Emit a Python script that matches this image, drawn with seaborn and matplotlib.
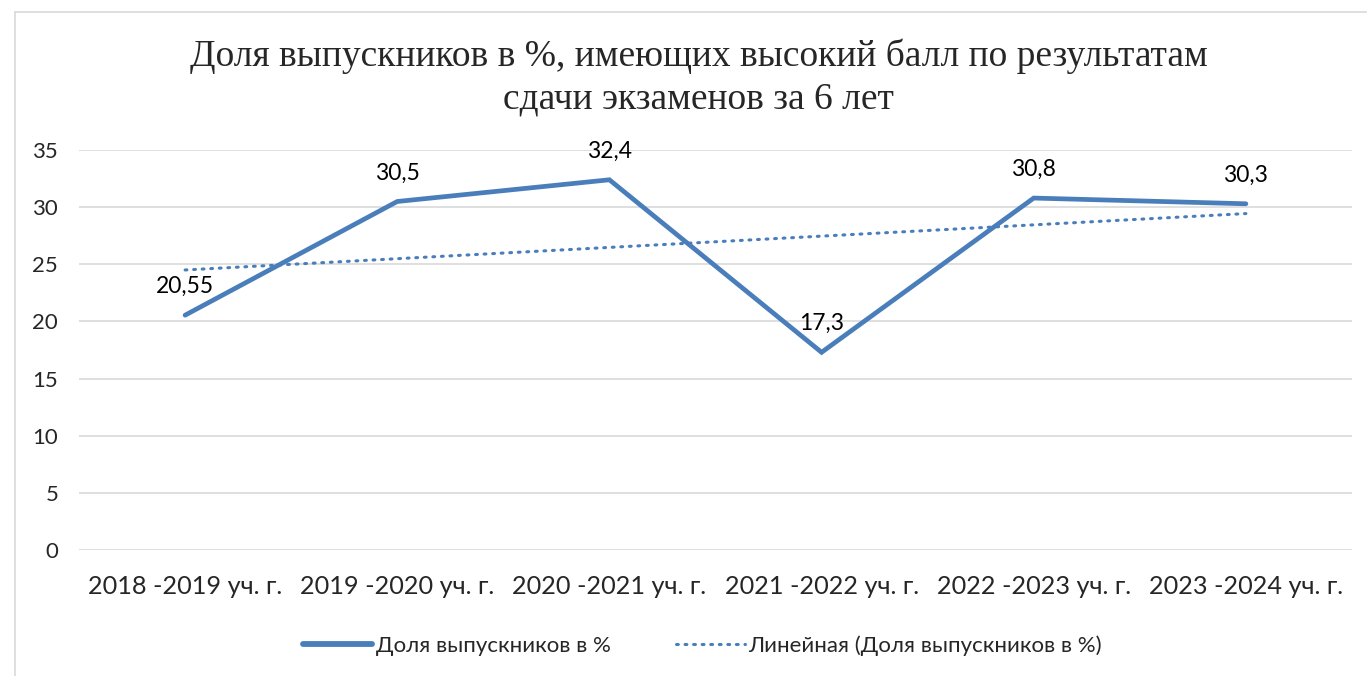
import numpy as np
import pandas as pd
import seaborn as sns
import matplotlib.pyplot as plt
from matplotlib.lines import Line2D

categories = ["2018 -2019 уч. г.", "2019 -2020 уч. г.", "2020 -2021 уч. г.",
              "2021 -2022 уч. г.", "2022 -2023 уч. г.", "2023 -2024 уч. г."]
values = [20.55, 30.5, 32.4, 17.3, 30.8, 30.3]
value_labels = ["20,55", "30,5", "32,4", "17,3", "30,8", "30,3"]
title = "Доля выпускников в %, имеющих высокий балл по результатам\nсдачи экзаменов за 6 лет"
series_name = "Доля выпускников в %"
trend_name = "Линейная (Доля выпускников в %)"

sns.set_theme(style="white")
plt.rcParams['font.family'] = ['Lato', 'DejaVu Sans']

color = "#4A7EBB"
df = pd.DataFrame({"x": np.arange(len(categories)), "y": values})
coef = np.polyfit(df["x"], df["y"], 1)
df["trend"] = np.polyval(coef, df["x"])

fig = plt.figure(figsize=(13.67, 6.76), dpi=100)
ax = fig.add_axes([0.0578, 0.1864, 0.9312, 0.5916])

sns.lineplot(data=df, x="x", y="y", ax=ax, color=color, linewidth=3.4,
             solid_capstyle="round", solid_joinstyle="miter")
sns.lineplot(data=df, x="x", y="trend", ax=ax, color=color, linewidth=2.2,
             linestyle=(0, (0.6, 2.2)), dash_capstyle="round")

for xi, yi, lab in zip(df["x"], df["y"], value_labels):
    ax.annotate(lab, (xi, yi), xytext=(0, 13), textcoords="offset points",
                ha="center", va="bottom", fontsize=16.5, color="#000000")

ax.set_xlim(-0.5, len(categories) - 0.5)
ax.set_ylim(0, 35)
ax.set_yticks(range(0, 36, 5))
ax.set_xticks(df["x"])
ax.set_xticklabels(categories, fontsize=18.2)
ax.tick_params(axis="y", labelsize=16, length=0, pad=15)
ax.tick_params(axis="x", length=0, pad=18)
ax.yaxis.grid(True, color="#D9D9D9", linewidth=1.2)
ax.set_axisbelow(True)
for s in ax.spines.values():
    s.set_visible(False)
ax.set_xlabel("")
ax.set_ylabel("")

fig.text(0.511, 0.8854, title, ha="center", va="center", fontsize=27,
         family=["Liberation Serif", "DejaVu Serif"], linespacing=1.33)

handles = [Line2D([], [], color=color, linewidth=4.2, solid_capstyle="round"),
           Line2D([], [], color=color, linewidth=2.2, linestyle=(0, (0.6, 2.2)),
                  dash_capstyle="round")]
fig.legend(handles, [series_name, trend_name], loc="center", ncol=2,
           bbox_to_anchor=(0.514, 0.045), frameon=False, fontsize=16,
           handlelength=3.1, handletextpad=0.15, columnspacing=2.95)

# chart border (top and left visible)
fig.add_artist(Line2D([0.011, 1.0], [0.982, 0.982], transform=fig.transFigure,
                      color="#D9D9D9", linewidth=1.2))
fig.add_artist(Line2D([0.011, 0.011], [0.0, 0.982], transform=fig.transFigure,
                      color="#D9D9D9", linewidth=1.2))

fig.savefig("out.png", dpi=100, facecolor="white")
